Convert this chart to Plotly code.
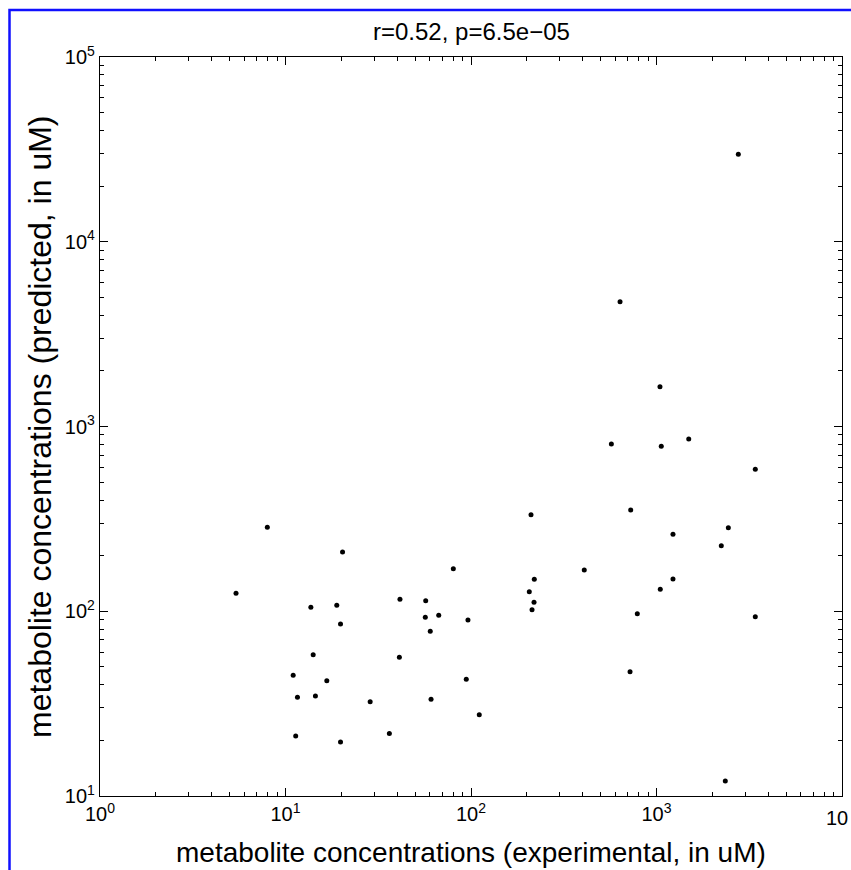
import plotly.graph_objects as go

# experimental (x) and predicted (y) metabolite concentrations, uM
x_experimental = [
    7.98, 20.3, 5.41, 80.3, 13.7, 18.9, 19.8, 41.4, 57.0, 56.7,
    67.0, 60.3, 96.3, 14.1, 41.1, 11.0, 16.7, 94.3, 11.6, 14.5,
    60.9, 28.6, 110.8, 11.35, 36.3, 19.8,
    636, 1044, 571, 1061, 1492, 3409, 210.6, 726, 1227, 2439,
    2235, 408, 219.4, 1227, 206.2, 1048, 218.6, 213.3, 788, 3409,
    720, 2349, 2761,
]
y_predicted = [
    285, 209, 125, 170, 105, 107.7, 85.3, 116, 114, 92.7,
    95.1, 77.9, 89.7, 58.2, 56.3, 45.0, 42.1, 42.8, 34.2, 34.8,
    33.4, 32.4, 27.5, 21.1, 21.8, 19.6,
    4737, 1642, 804, 781, 856, 587, 333, 353, 261, 283,
    226, 167, 149, 149.5, 127.6, 131.5, 111.8, 102, 97, 93.4,
    47.1, 12.06, 29744,
]

x_tick_vals = [1, 10, 100, 1000, 10000]
# the last x label is cut by the figure edge in the original, only "10" shows
x_tick_text = ["10<sup>0</sup>", "10<sup>1</sup>", "10<sup>2</sup>", "10<sup>3</sup>", ""]
x_edge_label = "10"
y_tick_vals = [10, 100, 1000, 10000, 100000]
y_tick_text = ["10<sup>1</sup>", "10<sup>2</sup>", "10<sup>3</sup>", "10<sup>4</sup>", "10<sup>5</sup>"]

title_text = "r=0.52, p=6.5e\u221205"
x_label = "metabolite concentrations (experimental, in uM)"
y_label = "metabolite concentrations (predicted, in uM)"

W, H = 851, 870
L, R, T, B = 100, 842, 57, 796  # plot area edges in pixels
pw, ph = R - L, B - T

def px_x(p):
    return (p - L) / pw

def px_y(p):
    return (B - p) / ph

FONT = "Liberation Sans, Arial, Helvetica, sans-serif"

fig = go.Figure()
fig.add_trace(go.Scatter(
    x=x_experimental, y=y_predicted, mode="markers",
    marker=dict(color="black", size=5, symbol="circle"),
    hoverinfo="x+y", showlegend=False,
))
# invisible helper trace so the mirrored (top/right) tick axes are drawn
fig.add_trace(go.Scatter(
    x=[x_experimental[0]], y=[y_predicted[0]], mode="markers",
    marker=dict(opacity=0), xaxis="x2", yaxis="y2",
    hoverinfo="skip", showlegend=False,
))

minor_ticks = dict(tickmode="linear", dtick="D1", ticks="inside", ticklen=4,
                   tickwidth=1, tickcolor="black", showgrid=False)

axis_common = dict(
    type="log",
    showgrid=False, zeroline=False,
    showline=True, linecolor="black", linewidth=1.2,
    mirror=True,
    ticks="inside", ticklen=8, tickwidth=1, tickcolor="black",
    tickmode="array",
    tickfont=dict(family=FONT, size=20, color="black"),
    minor=minor_ticks,
)

overlay_common = dict(
    type="log", showgrid=False, zeroline=False, showline=False,
    ticks="inside", ticklen=8, tickwidth=1, tickcolor="black",
    tickmode="array", showticklabels=False, minor=minor_ticks,
)

fig.update_layout(
    xaxis=dict(**axis_common, range=[0, 4], tickvals=x_tick_vals, ticktext=x_tick_text),
    yaxis=dict(**axis_common, range=[1, 5], tickvals=y_tick_vals, ticktext=y_tick_text),
    xaxis2=dict(**overlay_common, range=[0, 4], tickvals=x_tick_vals,
                overlaying="x", side="top", anchor="y2"),
    yaxis2=dict(**overlay_common, range=[1, 5], tickvals=y_tick_vals,
                overlaying="y", side="right", anchor="x2"),
    width=W, height=H,
    margin=dict(l=L, r=W - R, t=T, b=H - B, autoexpand=False),
    paper_bgcolor="white", plot_bgcolor="white",
    font=dict(family=FONT, color="black"),
    showlegend=False,
    annotations=[
        dict(text=title_text, xref="paper", yref="paper", x=0.5, y=px_y(31),
             xanchor="center", yanchor="middle", showarrow=False,
             font=dict(family=FONT, size=24, color="black")),
        dict(text=x_label, xref="paper", yref="paper", x=0.5, y=px_y(852),
             xanchor="center", yanchor="middle", showarrow=False,
             font=dict(family=FONT, size=28, color="black")),
        dict(text=y_label, xref="paper", yref="paper", x=px_x(40), y=px_y(427),
             xanchor="center", yanchor="middle", showarrow=False, textangle=-90,
             font=dict(family=FONT, size=32, color="black")),
        dict(text=x_edge_label, xref="paper", yref="paper", x=px_x(850), y=px_y(818),
             xanchor="right", yanchor="middle", showarrow=False,
             font=dict(family=FONT, size=20, color="black")),
    ],
    shapes=[
        dict(type="rect", xref="paper", yref="paper",
             x0=px_x(9.5), x1=px_x(900), y0=px_y(920), y1=px_y(10),
             line=dict(color="#1010ff", width=2.5), fillcolor="rgba(0,0,0,0)",
             layer="above"),
    ],
)

fig.write_html("out.html",
               config={"displayModeBar": False},
               post_script="document.body.style.margin='0';document.body.style.overflow='hidden';")
